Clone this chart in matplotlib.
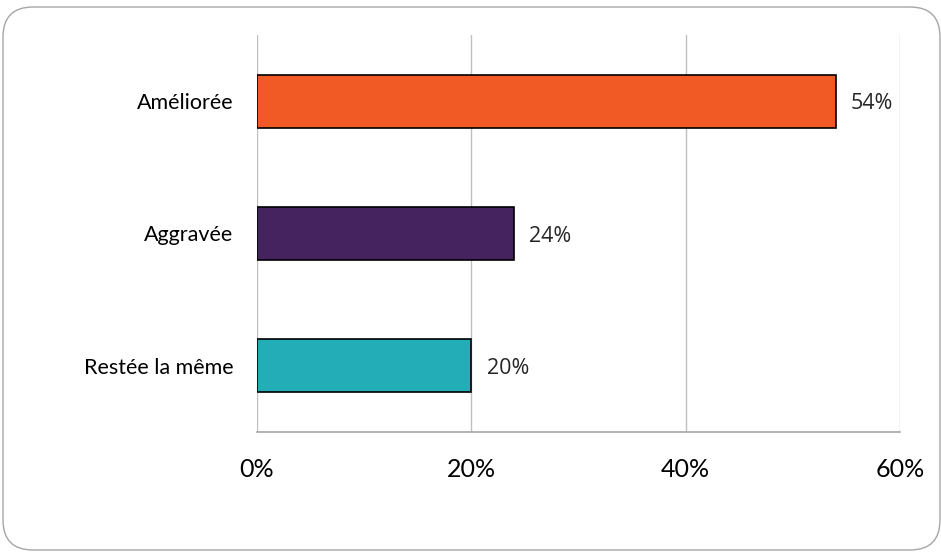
"""Horizontal bar chart: situation améliorée / aggravée / restée la même."""
import matplotlib
matplotlib.use('Agg')
import matplotlib.pyplot as plt
from matplotlib.patches import FancyBboxPatch
from matplotlib.ticker import FuncFormatter

# Data
categories = ['Améliorée', 'Aggravée', 'Restée la même']
values = [54, 24, 20]
colors = ['#F15A24', '#45235E', '#23AEB7']
xticks = [0, 20, 40, 60]

fig = plt.figure(figsize=(9.41, 5.52), dpi=100)

# rounded frame around the chart
frame = FancyBboxPatch((0.03, 0.02), 9.37, 5.43,
                       boxstyle='round,pad=0,rounding_size=0.3',
                       transform=fig.dpi_scale_trans, facecolor='none',
                       edgecolor='#A6A6A6', linewidth=1.0, zorder=-1)
fig.patches.append(frame)

ax = fig.add_axes([0.2731, 0.2174, 0.9564 - 0.2731, 0.9366 - 0.2174])
ax.patch.set_alpha(0)

ypos = list(range(len(categories)))[::-1]
bars = ax.barh(ypos, values, height=0.4, color=colors,
               edgecolor='black', linewidth=1.2, zorder=3)

for y, v in zip(ypos, values):
    ax.annotate(f'{v}%', (v, y), xytext=(11, -2), textcoords='offset points',
                ha='left', va='center', fontsize=15.5, family='Open Sans',
                color='#262626')

ax.set_xlim(0, 60)
ax.set_ylim(-0.5, len(categories) - 0.5)
ax.set_xticks(xticks)
ax.xaxis.set_major_formatter(FuncFormatter(lambda x, _: f'{x:.0f}%'))
ax.set_yticks(ypos)
ax.set_yticklabels(categories)

ax.tick_params(axis='x', length=0, pad=19, labelsize=18)
ax.tick_params(axis='y', length=0, pad=17, labelsize=15.5)
for lab in ax.get_xticklabels() + ax.get_yticklabels():
    lab.set_family('Lato')

ax.grid(axis='x', color='#BFBFBF', linewidth=1.0, zorder=0)
for s in ['top', 'right', 'left']:
    ax.spines[s].set_visible(False)
ax.spines['bottom'].set_color('#A6A6A6')
ax.spines['bottom'].set_linewidth(1.2)

fig.savefig('out.png', dpi=100)
